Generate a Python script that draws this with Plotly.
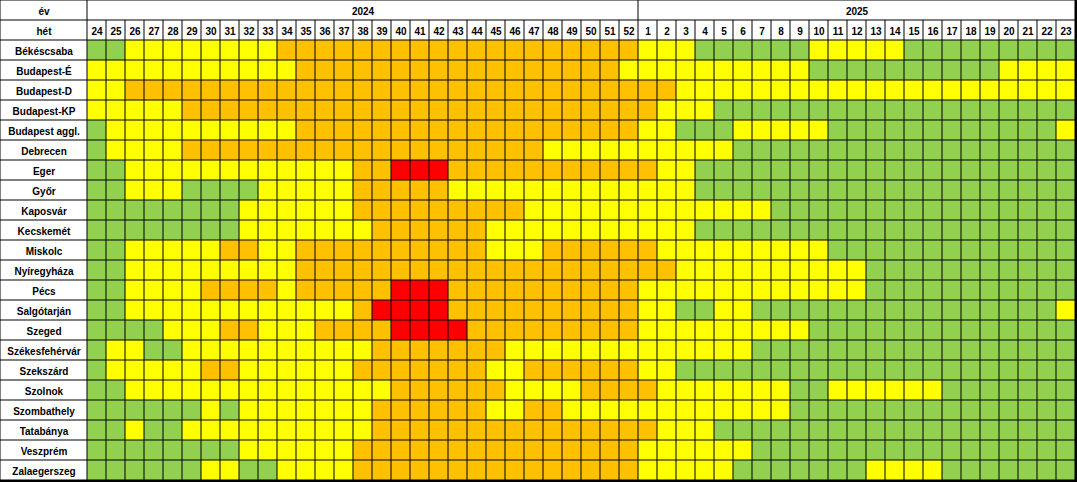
import plotly.graph_objects as go

# ---- data ----
cities = ["Békéscsaba", "Budapest-É", "Budapest-D", "Budapest-KP", "Budapest aggl.",
          "Debrecen", "Eger", "Győr", "Kaposvár", "Kecskemét", "Miskolc", "Nyíregyháza",
          "Pécs", "Salgótarján", "Szeged", "Székesfehérvár", "Szekszárd", "Szolnok",
          "Szombathely", "Tatabánya", "Veszprém", "Zalaegerszeg"]
weeks_2024 = list(range(24, 53))
weeks_2025 = list(range(1, 24))
years = ["2024", "2025"]

# G = green (0), Y = yellow (1), O = orange (2), R = red (3)
levels_2024 = [
    "GGYYYYYYYYOOOOOOOOOOOOOOOOOOO",  # Békéscsaba
    "YYYYYYYYYYYOOOOOOOOOOOOOOOOOY",  # Budapest-É
    "YYOOOOOOOOOOOOOOOOOOOOOOOOOOO",  # Budapest-D
    "YYYYYOOOOOOOOOOOOOOOOOOOOOOOO",  # Budapest-KP
    "GYYYYYYYYYYOOOOOOOOOOOOOOOOOO",  # Budapest aggl.
    "GYYYYOOOOOOOOOOOOOOOOOOOYYYYY",  # Debrecen
    "GGYYYYYYYYYYYYOORRROOOOOOOOOO",  # Eger
    "GGYYYGGGGYYYYYOOOOOYYYYYYYYYY",  # Győr
    "GGGGGGGGYYYYYYOOOOOOOOOYYYYYY",  # Kaposvár
    "GGGGGGGGYYYYYYYOOOOOOYYYYYYYY",  # Kecskemét
    "GGYYYYYOOYYOOOOOOOOOOYYYOOOOO",  # Miskolc
    "GGYYYYYYYYYOOOOOOOOOOOOOOOOOO",  # Nyíregyháza
    "GGYYYYOOOOYOOOOORRROOOOOOOOOO",  # Pécs
    "GGYYYYYYYYYYYYORRRROOOOOOOOOO",  # Salgótarján
    "GGGGYYYOOYYYOOOORRRROOOOOOOOO",  # Szeged
    "GYYGGYYYYYYYYYYOOOOOOOYYYYYYY",  # Székesfehérvár
    "GYYYYYOOYYYYYYOOOOOOOYYOOOOOO",  # Szekszárd
    "GGYYYYYYYYYYYYYYOOOOOOYYYYOOO",  # Szolnok
    "GGGGGGYGYYYYYYYOOOOOOYYOOYYYY",  # Szombathely
    "GGYGGYYYYYYYYYYOOOOOOOOOOOOOO",  # Tatabánya
    "GGGGGGGGYYYYYYOOOOOOOOOOOOOOO",  # Veszprém
    "GGGGGGYYGGYYYYOOOOOOOOOOOOOOO",  # Zalaegerszeg
]
levels_2025 = [
    "YYYGGGGGGYYYYYGGGGGGGGG",  # Békéscsaba
    "YYYYYYYYYGGGGGGGGGGYYYY",  # Budapest-É
    "OOYYYYYYYYYYYYYYYYYYYYY",  # Budapest-D
    "OYYYGGGGGGGGGGGGGGGGGGG",  # Budapest-KP
    "YYGGGYYYYYGGGGGGGGGGGGY",  # Budapest aggl.
    "YYYYYGGGGGGGGGGGGGGGGGG",  # Debrecen
    "OYYGGGGGGGGGGGGGGGGGGGG",  # Eger
    "YYYGGGGGGGGGGGGGGGGGGGG",  # Győr
    "YYYYYYYGGGGGGGGGGGGGGGG",  # Kaposvár
    "YYYGGGGGGGGGGGGGGGGGGGG",  # Kecskemét
    "OYYYYYYYYYGGGGGGGGGGGGG",  # Miskolc
    "OOYYYYYYYYYYGGGGGGGGGGG",  # Nyíregyháza
    "YYYYYYYYYYYYGGGGGGGGGGG",  # Pécs
    "YYGGYYGGGGGGGGGGGGGGGGY",  # Salgótarján
    "YYYYYYYYYGGGGGGGGGGGGGG",  # Szeged
    "YYYYYYGGGGGGGGGGGGGGGGG",  # Székesfehérvár
    "YYGGGGGGGGGGGGGGGGGGGGG",  # Szekszárd
    "OYYYYYYYGGYYYYYYGGGGGGG",  # Szolnok
    "YYYYYYYYGGGGGGGGGGGGGGG",  # Szombathely
    "OYYYGGGGGGGGGGGGGGGGGGG",  # Tatabánya
    "YYYYYYGGGGGGGGGGGGGGGGG",  # Veszprém
    "YYYYYGGGGGGGYYYYGGGGGGG",  # Zalaegerszeg
]

code = {"G": 0, "Y": 1, "O": 2, "R": 3}
WHITE = 4
colors = ["#92D050", "#FFFF00", "#FFC000", "#FF0000", "#FFFFFF"]

weeks = weeks_2024 + weeks_2025
n = len(weeks)
n24 = len(weeks_2024)

# geometry in week-column units (1 unit = 19 px, 1 row = 20 px)
label_w = 87 / 19
edge_left = -0.5 - label_w
x_edges = [edge_left] + [i - 0.5 for i in range(n + 1)]

# main heatmap: "hét" row + city rows
z, txt = [], []
z.append([WHITE] * (n + 1))
txt.append(["<b>hét</b>"] + [f"<b>{w}</b>" for w in weeks])
for c, a, b in zip(cities, levels_2024, levels_2025):
    z.append([WHITE] + [code[ch] for ch in a + b])
    txt.append([f"<b>{c}</b>"] + [""] * n)
y_rows = list(range(1, len(cities) + 2))

cs = []
k = len(colors)
for i, col in enumerate(colors):
    cs.append([i / k, col])
    cs.append([(i + 1) / k, col])

common = dict(colorscale=cs, zmin=-0.5, zmax=k - 0.5, showscale=False,
              xgap=1, ygap=1, hoverinfo="skip",
              texttemplate="%{text}",
              textfont=dict(family="Liberation Sans", size=10, color="black"))

fig = go.Figure()
fig.add_trace(go.Heatmap(x=x_edges, y=y_rows, z=z, text=txt, **common))

# year row with merged cells
year_edges = [edge_left, -0.5, n24 - 0.5, n - 0.5]
fig.add_trace(go.Heatmap(x=year_edges, y=[0], z=[[WHITE, WHITE, WHITE]],
                         text=[["<b>év</b>"] + [f"<b>{y}</b>" for y in years]], **common))

W, H = 1077, 482
x0 = edge_left - 0.5 / 19
y0 = -0.5 - 0.5 / 20
fig.update_layout(
    width=W, height=H, margin=dict(l=0, r=0, t=0, b=0),
    paper_bgcolor="white", plot_bgcolor="black",
    xaxis=dict(visible=False, range=[x0, x0 + W / 19], fixedrange=True),
    yaxis=dict(visible=False, range=[y0 + H / 20, y0], fixedrange=True),
)
fig.write_html("out.html")
